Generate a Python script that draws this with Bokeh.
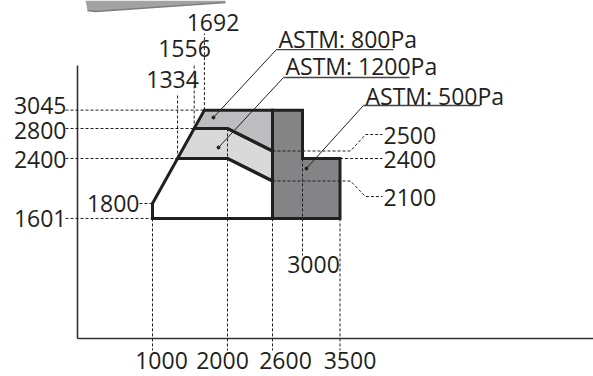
from bokeh.plotting import figure
from bokeh.models import Range1d
from bokeh.core.properties import value
from bokeh.embed import file_html
from bokeh.resources import INLINE

# ---- data ----
x_ticks = [1000, 2000, 2600, 3500]
x_mid_tick = [3000]
y_left_ticks = [1601, 2400, 2800, 3045]
y_1800 = [1800]
top_ticks = [1334, 1556, 1692]
right_ticks = [2500, 2400, 2100]

base_x = [1000, 1000, 1334, 2000, 2600, 2600]
base_y = [1601, 1800, 2400, 2400, 2100, 1601]
astm1200_x = [1334, 1556, 2000, 2600, 2600, 2000]
astm1200_y = [2400, 2800, 2800, 2500, 2100, 2400]
astm800_x = [1556, 1692, 2600, 2600, 2000]
astm800_y = [2800, 3045, 3045, 2500, 2800]
astm500_x = [2600, 2600, 3000, 3000, 3500, 3500]
astm500_y = [1601, 3045, 3045, 2400, 2400, 1601]

labels = ["ASTM: 800Pa", "ASTM: 1200Pa", "ASTM: 500Pa"]

# ---- layout ----
U = 1 / 0.075  # data units per screen pixel
INK = "#231f20"
FONT = value("Open Sans")
FS = "23px"
W, H = 593, 376
X0, Y0 = 77, 338  # screen position of the origin
DY = -1 * U       # small downward nudge for text

p = figure(width=W, height=H, output_backend="svg", toolbar_location=None,
           x_range=Range1d(-X0 * U, (W - X0) * U), y_range=Range1d((Y0 - H) * U, Y0 * U),
           min_border=0, x_axis_type=None, y_axis_type=None)
p.grid.visible = False
p.outline_line_color = None
p.background_fill_color = "white"
p.border_fill_color = "white"

# grey artifact at the top-left
p.patch([107, 1973, 1973, 240, 133], [4507, 4507, 4480, 4360, 4373],
        fill_color="#a3a3a3", line_color=None)
p.line([133, 240, 1973], [4373, 4360, 4480], line_color="#7d7d7d", line_width=1.5)

# axes
p.segment(x0=[0, 0], y0=[0, 0], x1=[0, 7000], y1=[3640, 0], line_color="#333333", line_width=1.6)

# fills
p.patch(base_x, base_y, fill_color="white", line_color=None)
p.patch(astm1200_x, astm1200_y, fill_color="#d9d9da", line_color=None)
p.patch(astm800_x, astm800_y, fill_color="#bcbdbf", line_color=None)
p.patch(astm500_x, astm500_y, fill_color="#848486", line_color=None)

dash = dict(line_color=INK, line_width=1, line_dash="3 2")
L = -12 * U
left_ends = {1601: 1000, 2400: 1334, 2800: 1556, 3045: 1692}
p.segment(x0=[L] * 4, y0=y_left_ticks, x1=[left_ends[v] for v in y_left_ticks], y1=y_left_ticks, **dash)
p.segment(x0=[62 * U], y0=y_1800, x1=[1000], y1=y_1800, **dash)
top_lo = {1334: 2400, 1556: 2800, 1692: 3045}
top_hi = {1334: 3267, 1556: 3667, 1692: 4067}
p.segment(x0=top_ticks, y0=[top_lo[v] for v in top_ticks], x1=top_ticks,
          y1=[top_hi[v] for v in top_ticks], **dash)
bot_hi = {1000: 1601, 2000: 2800, 2600: 1601, 3500: 1601}
p.segment(x0=x_ticks, y0=[bot_hi[v] for v in x_ticks], x1=x_ticks, y1=[-12 * U] * 4, **dash)
p.segment(x0=x_mid_tick, y0=[2400], x1=x_mid_tick, y1=[1107], **dash)
p.line([2600, 3640, 3840, 4067], [2500, 2500, 2720, 2720], **dash)
p.line([3500, 4067], [2400, 2400], **dash)
p.line([2600, 3640, 3840, 4067], [2100, 2100, 1893, 1893], **dash)

# outlines
ol = dict(fill_color=None, line_color=INK, line_width=3, line_join="miter")
p.patch(astm1200_x, astm1200_y, **ol)
p.patch(astm800_x, astm800_y, **ol)
p.patch(base_x, base_y, **ol)
p.patch(astm500_x, astm500_y, **ol)

# leaders
lead_start_x = [2653, 2747, 3813]
lead_start_y = [3853, 3480, 3107]
lead_end_x = [1813, 1880, 3053]
lead_end_y = [2947, 2547, 2267]
under_end_x = [4213, 4427, 5373]
p.segment(x0=lead_start_x, y0=lead_start_y, x1=lead_end_x, y1=lead_end_y, line_color=INK, line_width=1)
p.segment(x0=lead_start_x, y0=lead_start_y, x1=under_end_x, y1=lead_start_y, line_color="#444444", line_width=1.3)
p.scatter(lead_end_x, lead_end_y, size=3, color=INK)

txt = dict(text_font=FONT, text_font_size=FS, text_color=INK, text_baseline="middle")
p.text(x=[2680, 2773, 3840], y=[4013 + DY, 3647 + DY, 3253 + DY], text=labels, text_align="left", **txt)

left_dy = {1601: 1, 2400: 0, 2800: -1, 3045: 5.5}
p.text(x=[-11 * U] * 4, y=[v + left_dy[v] * U + DY for v in y_left_ticks],
       text=[str(v) for v in y_left_ticks], text_align="right", **txt)
p.text(x=[62 * U], y=[v + 1 * U + DY for v in y_1800], text=[str(v) for v in y_1800],
       text_align="right", **txt)
top_dx = {1334: -5, 1556: -9.7, 1692: 8.6}
p.text(x=[v + top_dx[v] * U for v in top_ticks], y=[3467 + DY, 3880 + DY, 4227 + DY],
       text=[str(v) for v in top_ticks], text_align="center", **txt)
bot_dx = {1000: 9, 2000: -5, 2600: 13, 3500: 10}
p.text(x=[v + bot_dx[v] * U for v in x_ticks], y=[-21.5 * U] * 4,
       text=[str(v) for v in x_ticks], text_align="center", **txt)
p.text(x=[v + 11 * U for v in x_mid_tick], y=[1000 + DY], text=[str(v) for v in x_mid_tick],
       text_align="center", **txt)
p.text(x=[4080] * 3, y=[2720 + DY, 2400 + DY, 1893 + DY], text=[str(v) for v in right_ticks],
       text_align="left", **txt)

open("out.html", "w").write(file_html(p, INLINE))
